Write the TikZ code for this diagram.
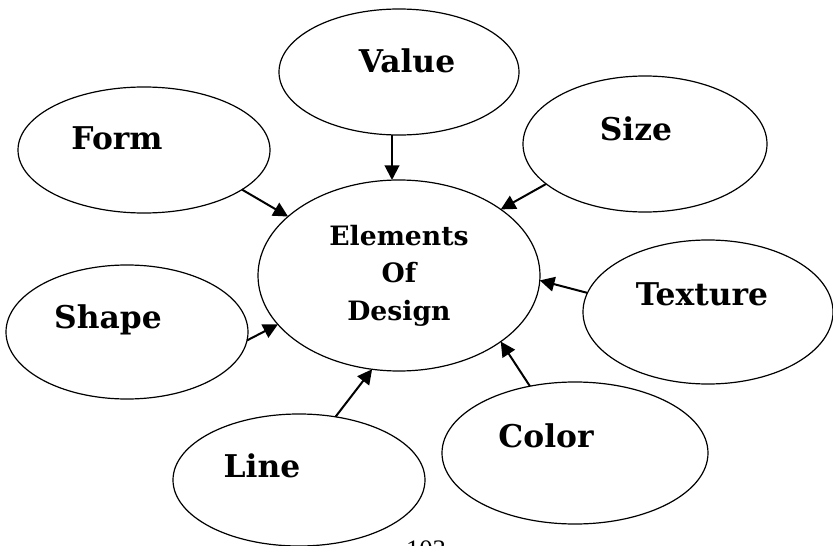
\documentclass[tikz,border=0pt]{standalone}
\usepackage{fontspec}
\setmainfont{DejaVu Serif}
\newfontfamily\pagefont{Liberation Serif}
\usepackage{tikz}
\usetikzlibrary{shapes,arrows.meta,positioning}
\tikzstyle{bubble} = [ellipse, draw, line width=0.9pt, inner sep=0pt, outer sep=0pt]
\tikzstyle{word} = [anchor=base, inner sep=0pt, font=\fontsize{23.5}{28}\selectfont\bfseries]
\tikzstyle{line} = [draw, line width=1.5pt, -{Triangle[length=11pt,width=11pt]}]

\begin{document}
\begin{tikzpicture}[x=0.75pt, y=-0.75pt]
    \useasboundingbox (0,0) rectangle (833,546);
    % Hub
    \node [bubble, minimum width=211.5pt, minimum height=143.25pt, align=center,
           font=\fontsize{20}{28}\selectfont\bfseries] (design) at (399,275.5)
      {Elements\\Of\\Design};
    % Outer bubbles
    \node [bubble, minimum width=180pt, minimum height=94.5pt] (value) at (399,72) {};
    \node [bubble, minimum width=189pt, minimum height=94.5pt] (form) at (144,150) {};
    \node [bubble, minimum width=183pt, minimum height=102pt] (size) at (645,144) {};
    \node [bubble, minimum width=187.5pt, minimum height=108pt] (texture) at (708,312) {};
    \node [bubble, minimum width=181.5pt, minimum height=100.5pt] (shape) at (127,332) {};
    \node [bubble, minimum width=199.5pt, minimum height=106.5pt] (color) at (575,453) {};
    \node [bubble, minimum width=189pt, minimum height=99pt] (line) at (299,480) {};
    % Labels
    \node [word] (valuetxt) at (407,72) {Value};
    \node [word] (formtxt) at (117,149) {Form};
    \node [word] (sizetxt) at (636,140) {Size};
    \node [word] (texturetxt) at (702,305) {Texture};
    \node [word] (shapetxt) at (108,328) {Shape};
    \node [word] (colortxt) at (546,447) {Color};
    \node [word] (linetxt) at (262,477) {Line};
    \node [anchor=base, inner sep=0pt, font=\pagefont\fontsize{20}{24}\selectfont] (pageno)
      at (426,558) {103};
    % Lines
    \path [line] ([xshift=-5.25pt]value.south) -- ([xshift=-5.25pt]design.north);
    \path [line] (form.338.5) -- (design.152.4);
    \path [line] (size.202.3) -- (design.33);
    \path [line] (texture.171.4) -- (design.358.2);
    \path [line] (color.124) -- (design.327.4);
    \path [line] (line.60) -- (design.254.5);
    \path [line] (shape.356.7) -- (design.202.5);
\end{tikzpicture}
\end{document}
